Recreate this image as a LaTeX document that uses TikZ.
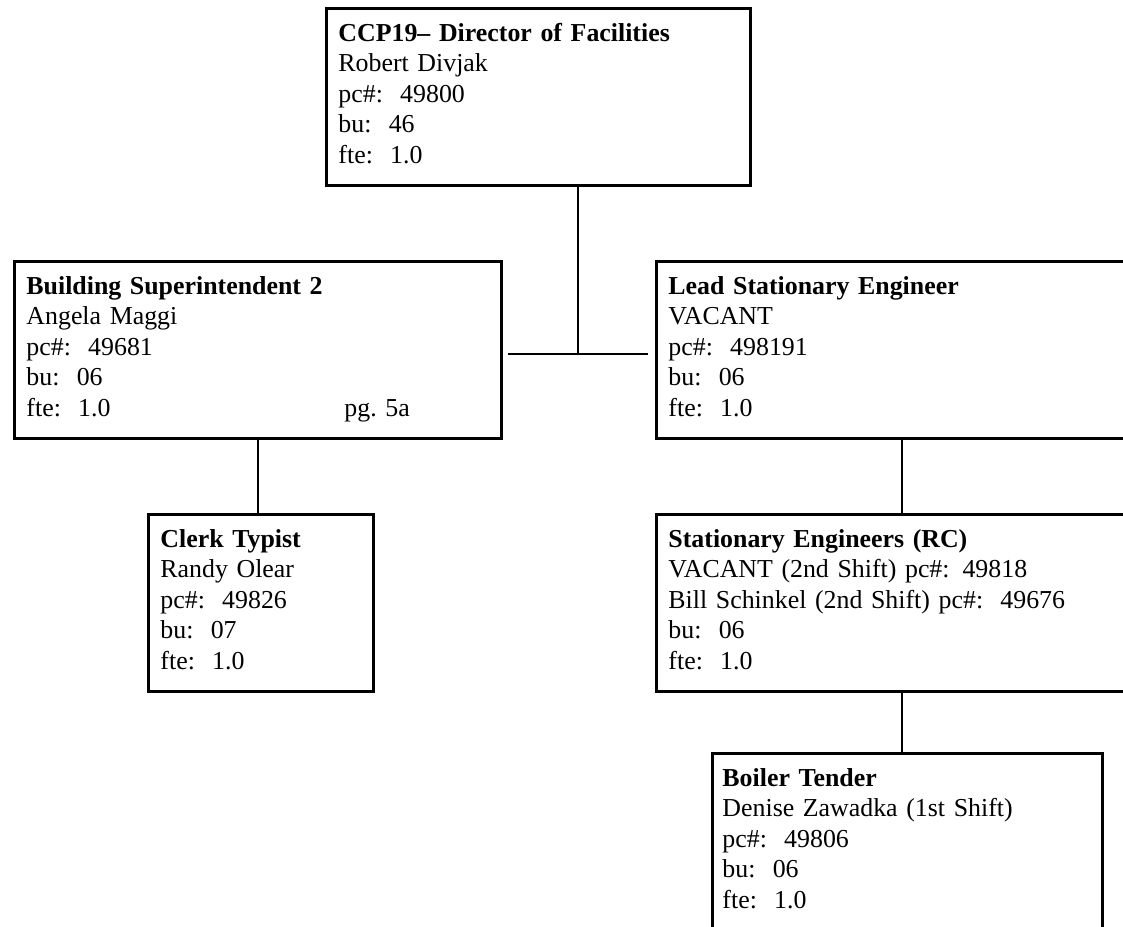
\documentclass[tikz,border=0pt]{standalone}
\usepackage{fontspec}
\setmainfont{Liberation Serif}
\usetikzlibrary{calc}
\tikzset{
  posbox/.style={draw, line width=2.2pt, anchor=north west, align=left,
    inner xsep=9pt, inner ysep=11pt, text width=#1, text depth=97pt,
    font=\fontsize{19.4}{22.9}\selectfont},
  link/.style={line width=1.5pt}
}

\begin{document}
\begin{tikzpicture}[x=0.75pt,y=-0.75pt]
      \useasboundingbox (0,0) rectangle (1123,926);
      \clip (0,0) rectangle (1123,926);
      \node [posbox=300pt] (dir) at (325,7) {\textbf{CCP19-- Director of Facilities}\\Robert Divjak\\pc\#:\ \ 49800\\bu:\ \ 46\\fte:\ \ 1.0};
      \node [posbox=347.25pt] (sup) at (13,260) {\textbf{Building Superintendent 2}\\Angela Maggi\\pc\#:\ \ 49681\\bu:\ \ 06\\\makebox[238.5pt][l]{fte:\ \ 1.0}pg.~5a};
      \node [posbox=351pt] (lead) at (655,260) {\textbf{Lead Stationary Engineer}\\VACANT\\pc\#:\ \ 498191\\bu:\ \ 06\\fte:\ \ 1.0};
      \node [posbox=150.75pt] (clerk) at (147,513) {\textbf{Clerk Typist}\\Randy Olear\\pc\#:\ \ 49826\\bu:\ \ 07\\fte:\ \ 1.0};
      \node [posbox=351pt] (eng) at (655,513) {\textbf{Stationary Engineers (RC)}\\VACANT (2nd Shift) pc\#: 49818\\Bill Schinkel (2nd Shift) pc\#:\ \ 49676\\bu:\ \ 06\\fte:\ \ 1.0};
      \node [posbox=277.5pt, inner xsep=7.5pt, text depth=130pt] (boiler) at (711,752) {\textbf{Boiler Tender}\\Denise Zawadka (1st Shift)\\pc\#:\ \ 49806\\bu:\ \ 06\\fte:\ \ 1.0};
      \coordinate (hub) at (578,354);
      \draw [link] (dir.south -| hub) -- (hub);
      \draw [link, shorten <=3.75pt, shorten >=5.25pt] (sup.east |- hub) -- (lead.west |- hub);
      \draw [link] (sup.south) -- (sup.south |- clerk.north);
      \draw [link] (lead.south) -- (lead.south |- eng.north);
      \draw [link] (eng.south) -- (eng.south |- boiler.north);
    \end{tikzpicture}
\end{document}
